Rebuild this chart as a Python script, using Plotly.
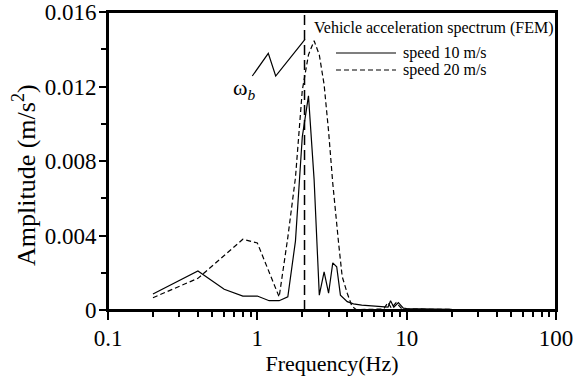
import plotly.graph_objects as go

# ---- data ----
freq_10 = [0.2, 0.4, 0.6, 0.8, 1.0, 1.2, 1.4, 1.6, 1.8, 2.0, 2.2, 2.4, 2.6, 2.8, 3.0,
           3.2, 3.4, 3.6, 4.0, 4.4, 5.0, 6.0, 7.0, 7.5, 7.8, 8.2, 8.8, 9.5, 10.0, 20.0]
amp_10 = [0.00086, 0.0021, 0.00111, 0.00075, 0.00075, 0.0005, 0.0005, 0.00071, 0.0037,
          0.0093, 0.0115, 0.0070, 0.0008, 0.00205, 0.0009, 0.00253, 0.00232, 0.0008,
          0.00045, 0.00033, 0.00026, 0.0002, 0.00016, 0.00015, 0.0005, 0.00015, 0.0004,
          0.0001, 0.00008, 0.00004]

freq_20 = [0.2, 0.4, 0.8, 1.0, 1.4, 1.6, 1.8, 2.0, 2.2, 2.4, 2.6, 2.8, 3.0, 3.2, 3.5,
           3.7, 4.0, 4.3, 4.6, 7.0, 7.5, 7.9, 8.5, 9.2, 10.0, 20.0]
amp_20 = [0.00066, 0.0017, 0.0038, 0.0036, 0.0007, 0.0039, 0.0071, 0.0118, 0.0137,
          0.01446, 0.0137, 0.0121, 0.0096, 0.0068, 0.0036, 0.0018, 0.0009, 0.0002,
          0.00002, 0.00005, 0.0004, 0.0001, 0.0004, 0.0001, 0.00005, 0.00003]

omega_b = 2.07
y_top = 0.016

x_tickvals = [0.1, 1, 10, 100]
x_ticktext = ["0.1", "1", "10", "100"]
y_tickvals = [0, 0.004, 0.008, 0.012, 0.016]
y_ticktext = ["0", "0.004", "0.008", "0.012", "0.016"]
x_minor = [m * 10 ** e for e in (-1, 0, 1) for m in range(2, 10)]

series_names = ["speed 10 m/s", "speed 20 m/s"]
legend_title = "Vehicle acceleration spectrum (FEM)"

FONT = "Liberation Serif"

fig = go.Figure()
fig.add_trace(go.Scatter(x=freq_10, y=amp_10, mode="lines", name=series_names[0],
                         line=dict(color="black", width=1.2)))
fig.add_trace(go.Scatter(x=freq_20, y=amp_20, mode="lines", name=series_names[1],
                         line=dict(color="black", width=1.2, dash="5px,3px")))
fig.add_trace(go.Scatter(x=[omega_b, omega_b], y=[0, y_top], mode="lines",
                         showlegend=False,
                         line=dict(color="black", width=1.5, dash="10px,5px")))

W, H = 574, 378
L, R, T, B = 108, 18, 12, 68
pw, ph = W - L - R, H - T - B


def px(x):
    return (x - L) / pw


def py(y):
    return (H - B - y) / ph


fig.update_layout(
    width=W, height=H,
    margin=dict(l=L, r=R, t=T, b=B, autoexpand=False),
    paper_bgcolor="white", plot_bgcolor="white",
    showlegend=False,
    font=dict(family=FONT, color="black", size=23),
    xaxis=dict(type="log", range=[-1, 2], tickvals=x_tickvals, ticktext=x_ticktext,
               ticklabeloverflow="allow", ticklabelstandoff=-2,
               ticks="outside", ticklen=8, tickwidth=1.5, tickcolor="black",
               showline=True, linewidth=2, linecolor="black", mirror=True,
               showgrid=False, zeroline=False,
               tickfont=dict(size=23, family=FONT, color="black"),
               minor=dict(tickvals=x_minor, ticks="outside", ticklen=5, tickwidth=1.5,
                          tickcolor="black", showgrid=False),
               title=dict(text="Frequency(Hz)", font=dict(size=22, family=FONT, color="black"),
                          standoff=4)),
    yaxis=dict(range=[0, y_top], tickvals=y_tickvals, ticktext=y_ticktext,
               ticklabeloverflow="allow", ticklabelstandoff=-2,
               ticks="outside", ticklen=7, tickwidth=1.5, tickcolor="black",
               showline=True, linewidth=2, linecolor="black", mirror=True,
               showgrid=False, zeroline=False,
               tickfont=dict(size=23, family=FONT, color="black"),
               minor=dict(dtick=0.002, ticks="outside", ticklen=5, tickwidth=1.5,
                          tickcolor="black", showgrid=False)),
)

# frame
fig.add_shape(type="rect", xref="paper", yref="paper", x0=0, x1=1, y0=0, y1=1,
              line=dict(color="black", width=2), layer="above")

# y axis title as annotation
fig.add_annotation(text="Amplitude (m/s<sup>2</sup>)", textangle=-90,
                   xref="paper", yref="paper", x=px(24), y=py(175),
                   xanchor="center", yanchor="middle", showarrow=False,
                   font=dict(size=26, family=FONT, color="black"))

# legend (custom)
fig.add_annotation(text=legend_title, xref="paper", yref="paper",
                   x=px(312), y=py(28), xanchor="left", yanchor="middle",
                   showarrow=False, font=dict(size=16, family=FONT, color="black"))
for name, yy, dash in [(series_names[0], 53, "solid"), (series_names[1], 70, "5px,3px")]:
    fig.add_annotation(text=name, xref="paper", yref="paper",
                       x=px(401), y=py(yy), xanchor="left", yanchor="middle",
                       showarrow=False, font=dict(size=16, family=FONT, color="black"))
    fig.add_shape(type="line", xref="paper", yref="paper",
                  x0=px(336), x1=px(396), y0=py(yy), y1=py(yy),
                  line=dict(color="black", width=1.2, dash=dash))

# omega_b label and zigzag pointer
fig.add_annotation(text="ω<sub><i>b</i></sub>", xref="paper", yref="paper",
                   x=px(231), y=py(89), xanchor="left", yanchor="middle",
                   showarrow=False, font=dict(size=22, family=FONT, color="black"))
zig = [(252.3, 76), (268.3, 53.3), (275.7, 76), (305, 39.3)]
path = "M " + " L ".join(f"{px(a):.4f} {py(b):.4f}" for a, b in zig)
fig.add_shape(type="path", xref="paper", yref="paper", path=path,
              line=dict(color="black", width=1.2))

fig.write_html("out.html")
